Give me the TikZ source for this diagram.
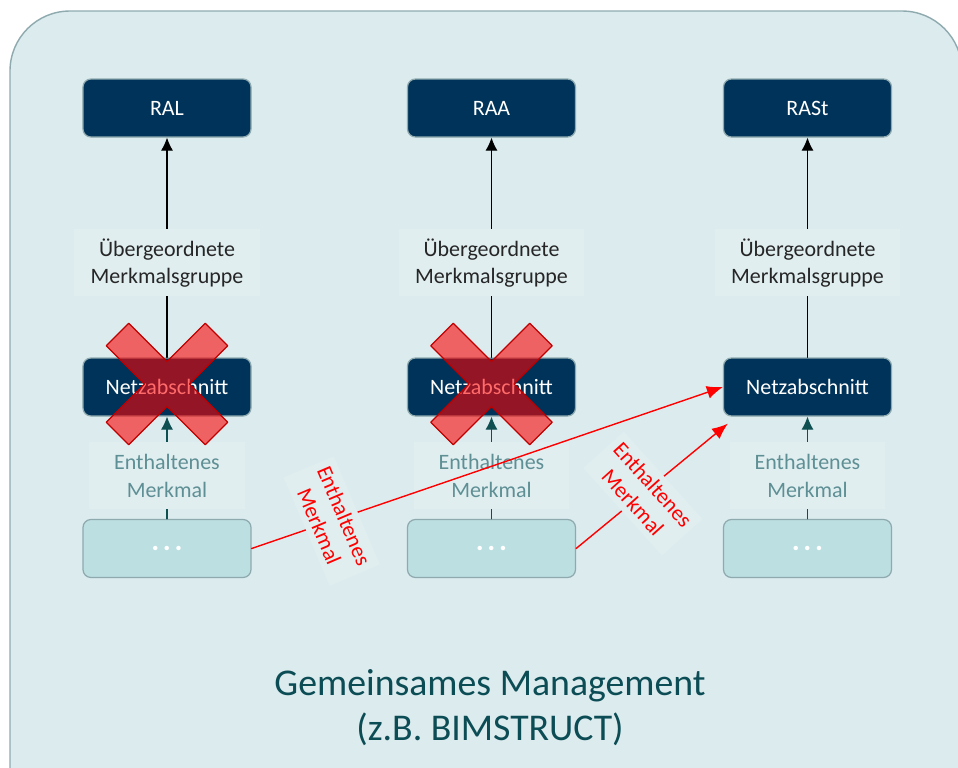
\documentclass[tikz,border=0pt]{standalone}
\usepackage{fontspec}
\setmainfont{Carlito}
\usetikzlibrary{arrows.meta}
\definecolor{panelbg}{HTML}{DBEBEE}
\definecolor{panelrule}{HTML}{8FAAAF}
\definecolor{navy}{HTML}{003359}
\definecolor{lightbox}{HTML}{BCDFE2}
\definecolor{lblbg}{HTML}{E0EEF0}
\definecolor{featgrey}{HTML}{5E8F94}
\definecolor{tealarrow}{HTML}{0E4F52}
\definecolor{mgmtteal}{HTML}{0B4C55}
\definecolor{xborder}{HTML}{C00000}
\begin{document}
\begin{tikzpicture}[x=0.2mm,y=-0.2mm,line cap=round,line join=round,
  lvl/.style={draw=panelrule,line width=0.7pt,rounded corners=1.6mm,
    minimum width=33.6mm,minimum height=11.6mm,inner sep=0pt},
  darkbox/.style={lvl,fill=navy,text=white,font=\fontsize{12.5}{15}\selectfont},
  dotbox/.style={lvl,fill=lightbox,text=white,font=\fontsize{17}{18}\selectfont\bfseries},
  grplbl/.style={fill=lblbg,text=black!85,align=center,inner sep=0pt,
    minimum width=37mm,minimum height=13.4mm,font=\fontsize{12.5}{15.4}\selectfont},
  featlbl/.style={grplbl,text=featgrey,minimum width=31mm},
  redlbl/.style={fill=lblbg,text=red,align=center,inner sep=1.2mm,
    font=\fontsize{12.5}{15.4}\selectfont},
  uparrow/.style={line width=0.6pt,-{Latex[length=2.6mm,width=2.4mm]}},
  featarrow/.style={uparrow,draw=tealarrow},
  redarrow/.style={line width=0.8pt,draw=red,-{Latex[length=3.2mm,width=2.6mm]},fill=red},
  xmark/.style={fill=red,fill opacity=0.58,draw=xborder,line width=0.7pt}]
  \clip (0,0) rectangle (958,767);
  \draw[fill=panelbg,draw=panelrule,line width=0.8pt,rounded corners=12mm] (10,11) rectangle (962,830);

  % upper level
  \node[darkbox] (ral) at (167,108) {RAL};
  \node[darkbox] (raa) at (491.5,108) {RAA};
  \node[darkbox] (rast) at (807.5,108) {RASt};

  \node[darkbox] (netz1) at (167,387) {Netzabschnitt};
  \node[darkbox] (netz2) at (491.5,387) {Netzabschnitt};
  \node[darkbox] (netz3) at (807.5,387) {Netzabschnitt};

  \node[dotbox] (dots1) at (167,548.5) {.\hspace{0.12em}.\hspace{0.12em}.};
  \node[dotbox] (dots2) at (491.5,548.5) {.\hspace{0.12em}.\hspace{0.12em}.};
  \node[dotbox] (dots3) at (807.5,548.5) {.\hspace{0.12em}.\hspace{0.12em}.};

  \foreach \a/\b in {netz1/ral,netz2/raa,netz3/rast}
    \draw[uparrow] (\a.north) -- node[grplbl,pos=.43] {Übergeordnete\\Merkmalsgruppe} (\b.south);
  \foreach \a/\b in {dots1/netz1,dots2/netz2,dots3/netz3}
    \draw[featarrow] (\a.north) -- node[featlbl,pos=.42] {Enthaltenes\\Merkmal} (\b.south);

  % red links
  \coordinate (in3) at ([xshift=1mm,yshift=-1.4mm]netz3.south west);
  \draw[redarrow] (dots1.east) -- node[redlbl,pos=.17,rotate=-67] {Enthaltenes\\Merkmal} (netz3.west);
  \draw[redarrow] (dots2.east) -- node[redlbl,pos=.44,rotate=-48] {Enthaltenes\\Merkmal} (in3);

  \foreach \n in {netz1,netz2}
    \draw[xmark,shift={(\n)}] (22.6,-3) -- (60.8,35.2) -- (38.2,57.8) -- (0,19.6) -- (-38.2,57.8)
      -- (-60.8,35.2) -- (-22.6,-3) -- (-60.8,-41.2) -- (-38.2,-63.8) -- (0,-25.6)
      -- (38.2,-63.8) -- (60.8,-41.2) -- cycle;

  \node[text=mgmtteal,align=center,font=\fontsize{21.5}{25.6}\selectfont] (mgmt) at (490,708)
    {Gemeinsames Management\\(z.B. BIMSTRUCT)};
\end{tikzpicture}
\end{document}
